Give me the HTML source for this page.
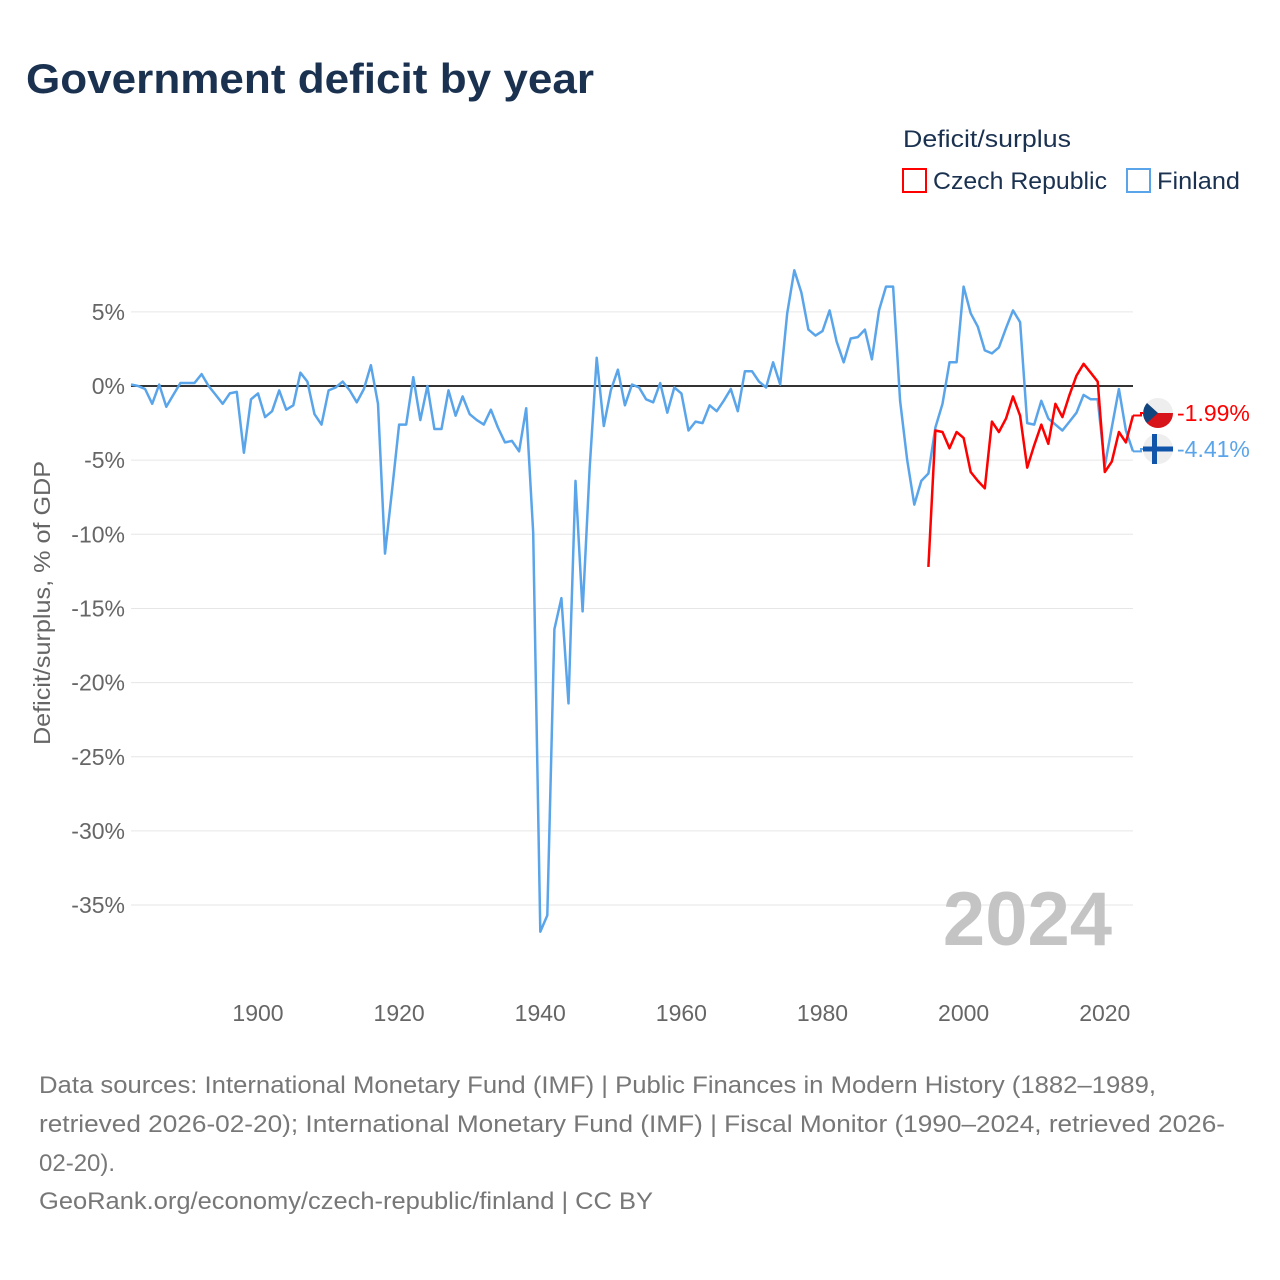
<!DOCTYPE html>
<html><head><meta charset="utf-8"><style>
body{margin:0;background:#fff;font-family:"Liberation Sans",sans-serif}
svg{display:block}
</style></head><body>
<svg id="chart" width="1280" height="1280" viewBox="0 0 1280 1280" xmlns="http://www.w3.org/2000/svg">
<rect width="1280" height="1280" fill="#fff"/>
<text x="26" y="93" font-size="42" font-weight="bold" fill="#1a3150" textLength="568" lengthAdjust="spacingAndGlyphs">Government deficit by year</text>
<text x="903" y="147" font-size="24" fill="#1a3150" textLength="168" lengthAdjust="spacingAndGlyphs">Deficit/surplus</text>
<g>
<rect x="903" y="169" width="23" height="23" fill="none" stroke="#f00" stroke-width="2"/>
<text x="933" y="189" font-size="24" fill="#1a3150" textLength="174" lengthAdjust="spacingAndGlyphs">Czech Republic</text>
</g>
<g>
<rect x="1127" y="169" width="23" height="23" fill="none" stroke="#5aa5ea" stroke-width="2"/>
<text x="1157" y="189" font-size="24" fill="#1a3150" textLength="83" lengthAdjust="spacingAndGlyphs">Finland</text>
</g>
<text transform="translate(50,603) rotate(-90)" text-anchor="middle" font-size="23" fill="#666" textLength="284" lengthAdjust="spacingAndGlyphs">Deficit/surplus, % of GDP</text>
<g id="grid"></g>
<text x="1112" y="945" text-anchor="end" font-size="76" font-weight="bold" fill="#c4c4c4">2024</text>
<g id="series"></g>
<g id="endlabels"></g>
<g font-size="24" fill="#777">
<text x="39" y="1093" textLength="1117" lengthAdjust="spacingAndGlyphs">Data sources: International Monetary Fund (IMF) | Public Finances in Modern History (1882–1989,</text>
<text x="39" y="1132" textLength="1186" lengthAdjust="spacingAndGlyphs">retrieved 2026-02-20); International Monetary Fund (IMF) | Fiscal Monitor (1990–2024, retrieved 2026-</text>
<text x="39" y="1171">02-20).</text>
<text x="39" y="1209" textLength="614" lengthAdjust="spacingAndGlyphs">GeoRank.org/economy/czech-republic/finland | CC BY</text>
</g>
</svg>
<script>
const yTicks=[5,0,-5,-10,-15,-20,-25,-30,-35];
const xTicks=[1900,1920,1940,1960,1980,2000,2020];
const finlandStart=1882;
const finlandValues=[0.1,0,-0.2,-1.2,0.1,-1.4,-0.6,0.2,0.2,0.2,0.8,0,-0.6,-1.2,-0.5,-0.4,-4.5,-0.9,-0.5,-2.1,-1.7,-0.3,-1.6,-1.3,0.9,0.3,-1.9,-2.6,-0.3,-0.1,0.3,-0.3,-1.1,-0.2,1.4,-1.2,-11.3,-7,-2.6,-2.6,0.6,-2.3,0,-2.9,-2.9,-0.3,-2.0,-0.7,-1.9,-2.3,-2.6,-1.6,-2.8,-3.8,-3.7,-4.4,-1.5,-9.9,-36.8,-35.7,-16.4,-14.3,-21.4,-6.4,-15.2,-5.5,1.9,-2.7,-0.3,1.1,-1.3,0.1,-0.1,-0.9,-1.1,0.2,-1.8,-0.1,-0.5,-3.0,-2.4,-2.5,-1.3,-1.7,-1.0,-0.2,-1.7,1.0,1.0,0.3,-0.1,1.6,0.1,4.9,7.8,6.3,3.8,3.4,3.7,5.1,3.0,1.6,3.2,3.3,3.8,1.8,5.1,6.7,6.7,-1.0,-5.0,-8.0,-6.4,-5.9,-2.8,-1.2,1.6,1.6,6.7,4.9,4.0,2.4,2.2,2.6,3.9,5.1,4.3,-2.5,-2.6,-1.0,-2.2,-2.6,-3.0,-2.4,-1.8,-0.6,-0.9,-0.9,-5.4,-2.8,-0.2,-3.0,-4.41];
const czechStart=1995;
const czechValues=[-12.2,-3.0,-3.1,-4.2,-3.1,-3.5,-5.8,-6.4,-6.9,-2.4,-3.1,-2.2,-0.7,-2.0,-5.5,-4.0,-2.6,-3.9,-1.2,-2.1,-0.6,0.7,1.5,0.9,0.3,-5.8,-5.1,-3.1,-3.8,-1.99];

const NS="http://www.w3.org/2000/svg";
const X=y=>131+(y-1882)*(1002/142);
const Y=v=>386-v*14.83;
function mk(t,a,p){const e=document.createElementNS(NS,t);for(const k in a)e.setAttribute(k,a[k]);p.appendChild(e);return e;}
const grid=document.getElementById('grid');
yTicks.forEach(v=>{
  const l=mk('line',{x1:131,x2:1133,y1:Y(v),y2:Y(v),stroke:'#e6e6e6','stroke-width':1},grid);
  
  
  const t=mk('text',{x:125,y:Y(v)+8,'text-anchor':'end','font-size':23,fill:'#666'},grid);
  t.textContent=v+'%';
  
  
});
const z=mk('line',{x1:131,x2:1133,y1:Y(0),y2:Y(0),stroke:'#333','stroke-width':2},grid);


xTicks.forEach(y=>{
  const t=mk('text',{x:X(y),y:1021,'text-anchor':'middle','font-size':23,fill:'#666'},grid);
  t.textContent=y;
  
  
});
const s=document.getElementById('series');
function line(start,vals,col,name){
  const pts=vals.map((v,i)=>X(start+i).toFixed(1)+','+Y(v).toFixed(1)).join(' ');
  const p=mk('polyline',{points:pts,fill:'none',stroke:col,'stroke-width':2.5,'stroke-linejoin':'round'},s);
  
  
}
line(finlandStart,finlandValues,'#5aa5ea','finland-line');
line(czechStart,czechValues,'#f00','czech-line');
const el=document.getElementById('endlabels');
function endLabel(v,ly,col,name,flag){
  const lastX=X(2024);
  const c=mk('polyline',{points:`${lastX},${Y(v)} ${lastX+8},${Y(v)} ${lastX+8},${ly} ${lastX+12},${ly}`,fill:'none',stroke:col,'stroke-width':2},el);
  
  
  const g=mk('g',{},el);
  
  
  const cx=1158;
  mk('circle',{cx:cx,cy:ly,r:15,fill:'#eee'},g);
  if(flag==='cz'){
    mk('path',{d:`M${cx-15},${ly} A15,15 0 0 0 ${cx+15},${ly} Z`,fill:'#d7141a'},g);
    mk('path',{d:`M${cx-11},${ly-10} L${cx},${ly} L${cx-11},${ly+10} A15,15 0 0 1 ${cx-11},${ly-10} Z`,fill:'#11457e'},g);
  }else{
    mk('rect',{x:cx-15,y:ly-2.5,width:30,height:5,fill:'#1155aa'},g);
    mk('rect',{x:cx-6,y:ly-15,width:5,height:30,fill:'#1155aa'},g);
  }
  const t=mk('text',{x:1177,y:ly+8,'font-size':23,fill:col},el);
  t.textContent=v.toFixed(2)+'%';
  
  
}
endLabel(czechValues[czechValues.length-1],413,'#f00','czech-end-label','cz');
endLabel(finlandValues[finlandValues.length-1],449,'#5aa5ea','finland-end-label','fi');
</script>
</body></html>
